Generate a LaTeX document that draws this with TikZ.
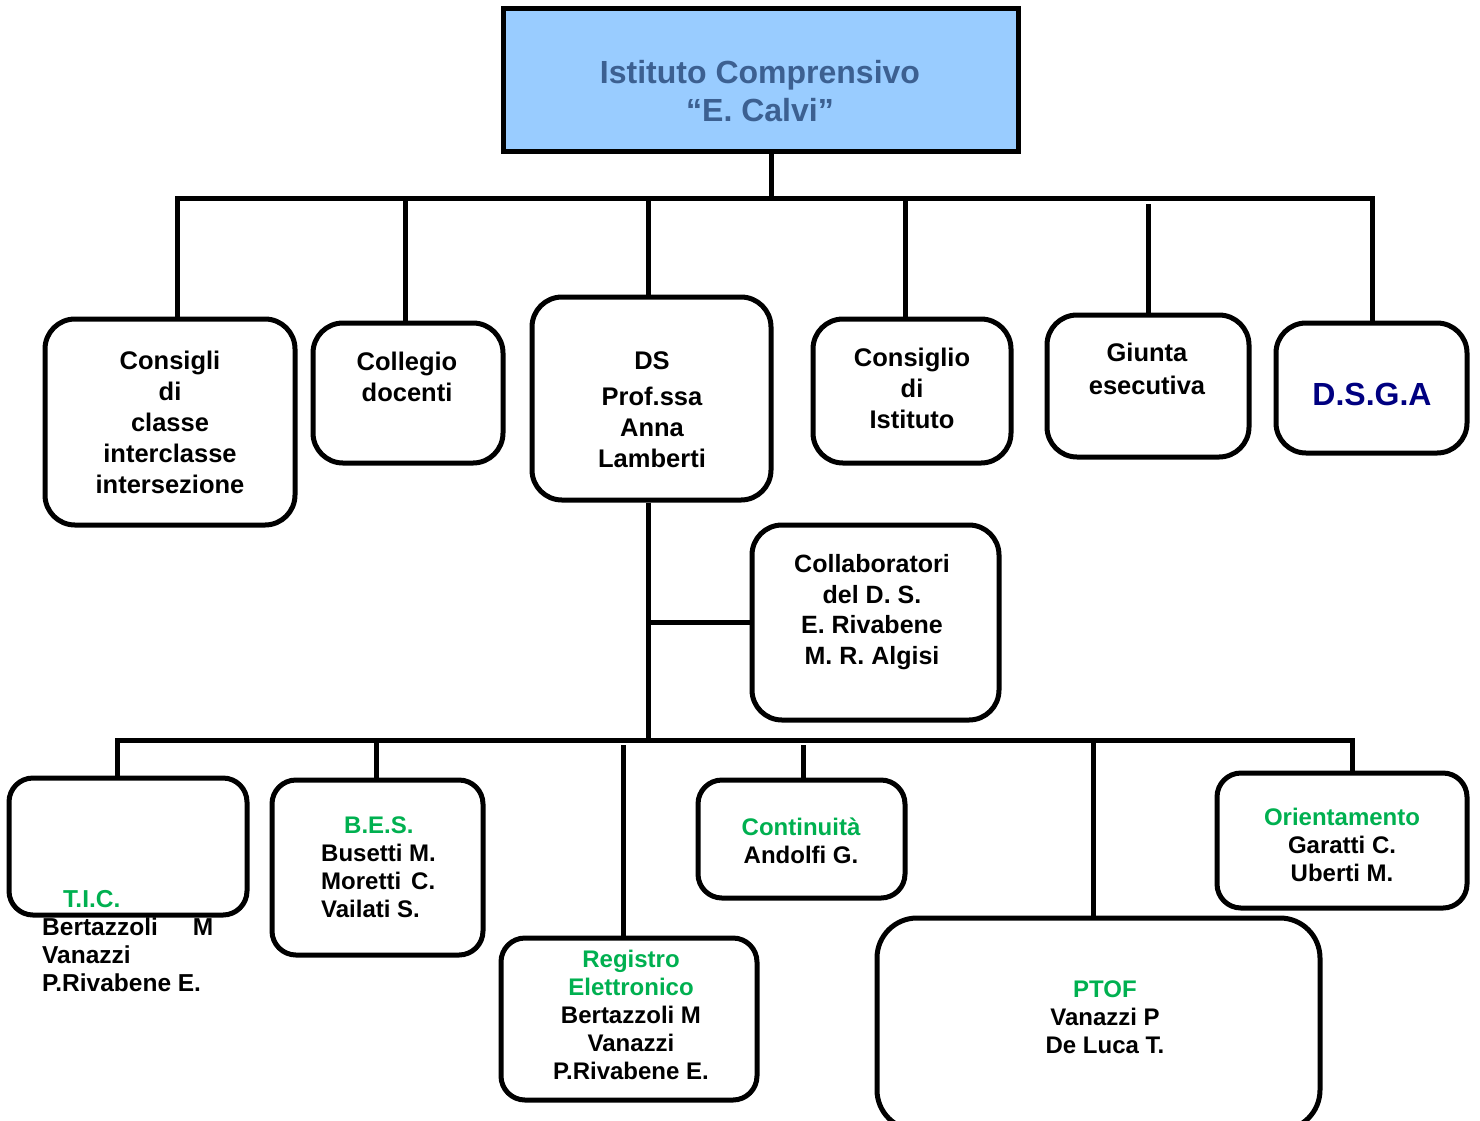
\documentclass[tikz,border=0pt]{standalone}
\usepackage{fontspec}
\setmainfont{Liberation Sans}
\usetikzlibrary{positioning}
\definecolor{titleblue}{RGB}{60,96,145}
\definecolor{boxblue}{RGB}{153,204,255}
\definecolor{dsganavy}{RGB}{0,0,128}
\definecolor{areagreen}{RGB}{0,176,80}

\begin{document}
\begin{tikzpicture}[x=1pt,y=-1pt]
\tikzset{box/.style ={draw,line width=5pt,rounded corners=30pt,inner sep=0pt},
  link/.style ={line width=5pt},
  txt/.style ={align=center,inner sep=0pt,font=\bfseries\fontsize{25.5}{31}\selectfont},
  small/.style ={align=center,inner sep=0pt,font=\bfseries\fontsize{24}{28}\selectfont}}
\useasboundingbox (0,0) rectangle (1480,1120);
% istituto
\node[box,rounded corners=0pt,fill=boxblue,minimum width=515pt,minimum height=143pt] (ic) at (760.5,79.5) {};
\node[txt,font=\bfseries\fontsize{32}{38}\selectfont,text=titleblue] (ic-t) at (760,91) {Istituto Comprensivo\\“E. Calvi”};
% organi
\node[box,minimum width=250pt,minimum height=206pt] (consigli) at (170,422) {};
\node[txt] (consigli-t) at (170,422) {Consigli\\di\\classe\\interclasse\\intersezione};
\node[box,minimum width=190pt,minimum height=140pt] (collegio) at (408,393) {};
\node[txt] (collegio-t) at (407,376.5) {Collegio\\docenti};
\node[box,minimum width=239pt,minimum height=203pt] (ds) at (651.5,398.5) {};
\node[txt] (ds-t) at (652,410) {DS\\[5pt]Prof.ssa\\Anna\\Lamberti};
\node[box,minimum width=198pt,minimum height=144pt] (istituto) at (912,391) {};
\node[txt] (istituto-t) at (912,388) {Consiglio\\di\\Istituto};
\node[box,minimum width=202pt,minimum height=142pt] (giunta) at (1148,386) {};
\node[txt,font=\bfseries\fontsize{25.5}{33}\selectfont] (giunta-t) at (1147,368.5) {Giunta\\esecutiva};
\node[box,minimum width=191pt,minimum height=130pt] (dsga) at (1371.5,388) {};
\node[txt,font=\bfseries\fontsize{32}{38}\selectfont,text=dsganavy] (dsga-t) at (1372,394) {D.S.G.A};
\node[box,minimum width=247pt,minimum height=195pt] (collab) at (875.5,622.5) {};
\node[txt,font=\bfseries\fontsize{25}{30.5}\selectfont] (collab-t) at (872,612) {Collaboratori\\del D. S.\\E. Rivabene\\M. R. Algisi};
% referenti
\node[box,rounded corners=24pt,minimum width=238pt,minimum height=137pt] (tic) at (128,846.5) {};
\node[small,align=left,anchor=west,font=\bfseries\fontsize{24.5}{28}\selectfont] (tic-t) at (42,941.5) {\hspace*{21pt}{\color{areagreen}T.I.C.}\\Bertazzoli\hspace{35pt}M\\Vanazzi\\P.Rivabene E.};
\node[box,rounded corners=24pt,minimum width=211pt,minimum height=175pt] (bes) at (377.5,867.5) {};
\node[small,align=left,anchor=west] (bes-t) at (321,867.5) {\hspace*{23pt}{\color{areagreen}B.E.S.}\\Busetti M.\\Moretti\hspace{10pt}C.\\Vailati S.};
\node[box,rounded corners=24pt,minimum width=256pt,minimum height=162pt] (registro) at (629,1019) {};
\node[small] (registro-t) at (631,1015) {{\color{areagreen}Registro}\\{\color{areagreen}Elettronico}\\Bertazzoli M\\Vanazzi\\P.Rivabene E.};
\node[box,rounded corners=24pt,minimum width=207pt,minimum height=118pt] (cont) at (801.5,839) {};
\node[small] (cont-t) at (801,841) {{\color{areagreen}Continuità}\\Andolfi G.};
\node[box,rounded corners=40pt,minimum width=443pt,minimum height=212pt] (ptof) at (1098.5,1024) {};
\node[small] (ptof-t) at (1105,1017.5) {{\color{areagreen}PTOF}\\Vanazzi P\\De Luca T.};
\node[box,rounded corners=24pt,minimum width=250pt,minimum height=135pt] (orient) at (1342,840.5) {};
\node[small] (orient-t) at (1342,844.5) {{\color{areagreen}Orientamento}\\Garatti C.\\Uberti M.};
% linee
\coordinate (t0) at (771,198);
\coordinate (t1) at (177,198);
\coordinate (t2) at (405,198);
\coordinate (t3) at (648,198);
\coordinate (t4) at (905,198);
\coordinate (t5) at (1148,204);
\coordinate (t6) at (1372,198);
\coordinate (m0) at (648,740);
\coordinate (m1) at (648,622);
\coordinate (s1) at (117,740);
\coordinate (s2) at (376,740);
\coordinate (s3) at (623,745);
\coordinate (s4) at (803,745);
\coordinate (s5) at (1093,740);
\coordinate (s6) at (1352,740);
\draw[link] (ic.south -| t0) -- (t0);
\draw[link] (t1 |- consigli.north) -- (t1) -- (t6) -- (t6 |- dsga.north);
\foreach \c/\b in {t2/collegio,t3/ds,t4/istituto,t5/giunta}
  \draw[link] (\c) -- (\c |- \b.north);
\draw[link] (ds.south -| m0) -- (m0);
\draw[link] (m1) -- (m1 -| collab.west);
\draw[link] (s1 |- tic.north) -- (s1) -- (s6) -- (s6 |- orient.north);
\foreach \c/\b in {s2/bes,s3/registro,s4/cont,s5/ptof}
  \draw[link] (\c) -- (\c |- \b.north);
\end{tikzpicture}
\end{document}
